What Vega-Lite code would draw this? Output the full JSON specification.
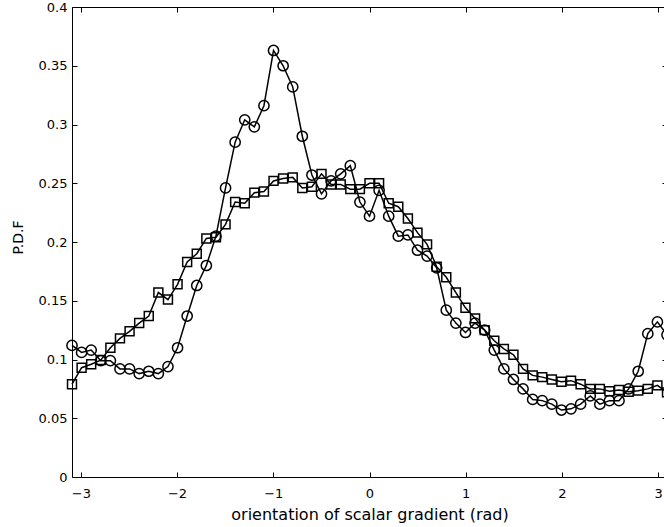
{
  "$schema": "https://vega.github.io/schema/vega-lite/v6.json",
  "width": 595,
  "height": 470,
  "autosize": {"type": "none"},
  "padding": {"left": 72, "top": 7, "right": 0, "bottom": 50},
  "background": "white",
  "config": {
    "view": {"stroke": "black", "strokeWidth": 1},
    "font": "DejaVu Sans",
    "axis": {
      "grid": false,
      "domain": false,
      "tickColor": "black",
      "tickWidth": 1,
      "tickSize": -5,
      "labelColor": "black",
      "labelFont": "DejaVu Sans",
      "labelFontSize": 13,
      "titleFont": "DejaVu Sans",
      "titleFontSize": 14,
      "titleFontWeight": "normal",
      "titleColor": "black"
    }
  },
  "datasets": {
    "pdf": [
      {"x": -3.0917, "s": "a", "y": 0.112}, {"x": -2.9920, "s": "a", "y": 0.106}, {"x": -2.8923, "s": "a", "y": 0.108},
      {"x": -2.7925, "s": "a", "y": 0.099}, {"x": -2.6928, "s": "a", "y": 0.099}, {"x": -2.5931, "s": "a", "y": 0.092},
      {"x": -2.4933, "s": "a", "y": 0.092}, {"x": -2.3936, "s": "a", "y": 0.088}, {"x": -2.2939, "s": "a", "y": 0.090},
      {"x": -2.1941, "s": "a", "y": 0.088}, {"x": -2.0944, "s": "a", "y": 0.094}, {"x": -1.9947, "s": "a", "y": 0.110},
      {"x": -1.8950, "s": "a", "y": 0.137}, {"x": -1.7952, "s": "a", "y": 0.163}, {"x": -1.6955, "s": "a", "y": 0.180},
      {"x": -1.5958, "s": "a", "y": 0.205}, {"x": -1.4960, "s": "a", "y": 0.246}, {"x": -1.3963, "s": "a", "y": 0.285},
      {"x": -1.2966, "s": "a", "y": 0.304}, {"x": -1.1968, "s": "a", "y": 0.298}, {"x": -1.0971, "s": "a", "y": 0.316},
      {"x": -0.9974, "s": "a", "y": 0.363}, {"x": -0.8976, "s": "a", "y": 0.350}, {"x": -0.7979, "s": "a", "y": 0.332},
      {"x": -0.6982, "s": "a", "y": 0.290}, {"x": -0.5984, "s": "a", "y": 0.257}, {"x": -0.4987, "s": "a", "y": 0.241},
      {"x": -0.3990, "s": "a", "y": 0.252}, {"x": -0.2992, "s": "a", "y": 0.258}, {"x": -0.1995, "s": "a", "y": 0.265},
      {"x": -0.0997, "s": "a", "y": 0.234}, {"x": 0.0000, "s": "a", "y": 0.222}, {"x": 0.0997, "s": "a", "y": 0.244},
      {"x": 0.1995, "s": "a", "y": 0.222}, {"x": 0.2992, "s": "a", "y": 0.205}, {"x": 0.3990, "s": "a", "y": 0.206},
      {"x": 0.4987, "s": "a", "y": 0.193}, {"x": 0.5984, "s": "a", "y": 0.188}, {"x": 0.6982, "s": "a", "y": 0.178},
      {"x": 0.7979, "s": "a", "y": 0.142}, {"x": 0.8976, "s": "a", "y": 0.131}, {"x": 0.9974, "s": "a", "y": 0.123},
      {"x": 1.0971, "s": "a", "y": 0.131}, {"x": 1.1968, "s": "a", "y": 0.125}, {"x": 1.2966, "s": "a", "y": 0.108},
      {"x": 1.3963, "s": "a", "y": 0.092}, {"x": 1.4960, "s": "a", "y": 0.083}, {"x": 1.5958, "s": "a", "y": 0.075},
      {"x": 1.6955, "s": "a", "y": 0.066}, {"x": 1.7952, "s": "a", "y": 0.065}, {"x": 1.8950, "s": "a", "y": 0.062},
      {"x": 1.9947, "s": "a", "y": 0.057}, {"x": 2.0944, "s": "a", "y": 0.058}, {"x": 2.1941, "s": "a", "y": 0.062},
      {"x": 2.2939, "s": "a", "y": 0.069}, {"x": 2.3936, "s": "a", "y": 0.062}, {"x": 2.4933, "s": "a", "y": 0.065},
      {"x": 2.5931, "s": "a", "y": 0.065}, {"x": 2.6928, "s": "a", "y": 0.075}, {"x": 2.7925, "s": "a", "y": 0.090},
      {"x": 2.8923, "s": "a", "y": 0.122}, {"x": 2.9920, "s": "a", "y": 0.132}, {"x": 3.0917, "s": "a", "y": 0.121},
      {"x": -3.0917, "s": "b", "y": 0.079}, {"x": -2.9920, "s": "b", "y": 0.093}, {"x": -2.8923, "s": "b", "y": 0.096},
      {"x": -2.7925, "s": "b", "y": 0.0995}, {"x": -2.6928, "s": "b", "y": 0.110}, {"x": -2.5931, "s": "b", "y": 0.118},
      {"x": -2.4933, "s": "b", "y": 0.124}, {"x": -2.3936, "s": "b", "y": 0.131}, {"x": -2.2939, "s": "b", "y": 0.137},
      {"x": -2.1941, "s": "b", "y": 0.157}, {"x": -2.0944, "s": "b", "y": 0.151}, {"x": -1.9947, "s": "b", "y": 0.164},
      {"x": -1.8950, "s": "b", "y": 0.183}, {"x": -1.7952, "s": "b", "y": 0.190}, {"x": -1.6955, "s": "b", "y": 0.203},
      {"x": -1.5958, "s": "b", "y": 0.204}, {"x": -1.4960, "s": "b", "y": 0.215}, {"x": -1.3963, "s": "b", "y": 0.234},
      {"x": -1.2966, "s": "b", "y": 0.233}, {"x": -1.1968, "s": "b", "y": 0.242}, {"x": -1.0971, "s": "b", "y": 0.243},
      {"x": -0.9974, "s": "b", "y": 0.252}, {"x": -0.8976, "s": "b", "y": 0.254}, {"x": -0.7979, "s": "b", "y": 0.255},
      {"x": -0.6982, "s": "b", "y": 0.246}, {"x": -0.5984, "s": "b", "y": 0.247}, {"x": -0.4987, "s": "b", "y": 0.258},
      {"x": -0.3990, "s": "b", "y": 0.249}, {"x": -0.2992, "s": "b", "y": 0.249}, {"x": -0.1995, "s": "b", "y": 0.245},
      {"x": -0.0997, "s": "b", "y": 0.245}, {"x": 0.0000, "s": "b", "y": 0.250}, {"x": 0.0997, "s": "b", "y": 0.250},
      {"x": 0.1995, "s": "b", "y": 0.233}, {"x": 0.2992, "s": "b", "y": 0.230}, {"x": 0.3990, "s": "b", "y": 0.220},
      {"x": 0.4987, "s": "b", "y": 0.208}, {"x": 0.5984, "s": "b", "y": 0.198}, {"x": 0.6982, "s": "b", "y": 0.179},
      {"x": 0.7979, "s": "b", "y": 0.170}, {"x": 0.8976, "s": "b", "y": 0.157}, {"x": 0.9974, "s": "b", "y": 0.144},
      {"x": 1.0971, "s": "b", "y": 0.135}, {"x": 1.1968, "s": "b", "y": 0.125}, {"x": 1.2966, "s": "b", "y": 0.116},
      {"x": 1.3963, "s": "b", "y": 0.109}, {"x": 1.4960, "s": "b", "y": 0.104}, {"x": 1.5958, "s": "b", "y": 0.092},
      {"x": 1.6955, "s": "b", "y": 0.0865}, {"x": 1.7952, "s": "b", "y": 0.085}, {"x": 1.8950, "s": "b", "y": 0.083},
      {"x": 1.9947, "s": "b", "y": 0.081}, {"x": 2.0944, "s": "b", "y": 0.082}, {"x": 2.1941, "s": "b", "y": 0.079},
      {"x": 2.2939, "s": "b", "y": 0.075}, {"x": 2.3936, "s": "b", "y": 0.075}, {"x": 2.4933, "s": "b", "y": 0.073},
      {"x": 2.5931, "s": "b", "y": 0.074}, {"x": 2.6928, "s": "b", "y": 0.0725}, {"x": 2.7925, "s": "b", "y": 0.0735},
      {"x": 2.8923, "s": "b", "y": 0.075}, {"x": 2.9920, "s": "b", "y": 0.078}, {"x": 3.0917, "s": "b", "y": 0.072}
    ]
  },
  "data": {"name": "pdf"},
  "layer": [
    {
      "mark": {"type": "line", "color": "black", "strokeWidth": 1.5},
      "encoding": {
        "x": {
          "field": "x", "type": "quantitative",
          "scale": {"domain": [-3.0917, 3.0917], "nice": false, "zero": false},
          "axis": {"orient": "bottom", "values": [-3, -2, -1, 0, 1, 2, 3], "labelPadding": 15, "title": "orientation of scalar gradient (rad)", "titleFontSize": 16, "titleY": 37, "titleBaseline": "middle"}
        },
        "y": {
          "field": "y", "type": "quantitative",
          "scale": {"domain": [0, 0.4], "nice": false, "zero": false},
          "axis": {"orient": "left", "values": [0, 0.05, 0.1, 0.15, 0.2, 0.25, 0.3, 0.35, 0.4], "format": "~g", "labelPadding": 10, "title": "P.D.F", "titleX": -54, "titleY": 230, "titleBaseline": "middle", "titleAlign": "center"}
        },
        "detail": {"field": "s", "type": "nominal"}
      }
    },
    {
      "mark": {"type": "point", "filled": false, "color": "black", "strokeWidth": 1.5, "opacity": 1},
      "encoding": {
        "x": {
          "field": "x", "type": "quantitative",
          "axis": {"orient": "top", "values": [-3, -2, -1, 0, 1, 2, 3], "labels": false, "title": null}
        },
        "y": {
          "field": "y", "type": "quantitative",
          "axis": {"orient": "right", "values": [0, 0.05, 0.1, 0.15, 0.2, 0.25, 0.3, 0.35, 0.4], "labels": false, "title": null}
        },
        "shape": {"field": "s", "type": "nominal", "scale": {"domain": ["a", "b"], "range": ["circle", "square"]}, "legend": null},
        "size": {"field": "s", "type": "nominal", "scale": {"domain": ["a", "b"], "range": [105, 80]}, "legend": null}
      }
    }
  ],
  "resolve": {"axis": {"x": "independent", "y": "independent"}}
}
